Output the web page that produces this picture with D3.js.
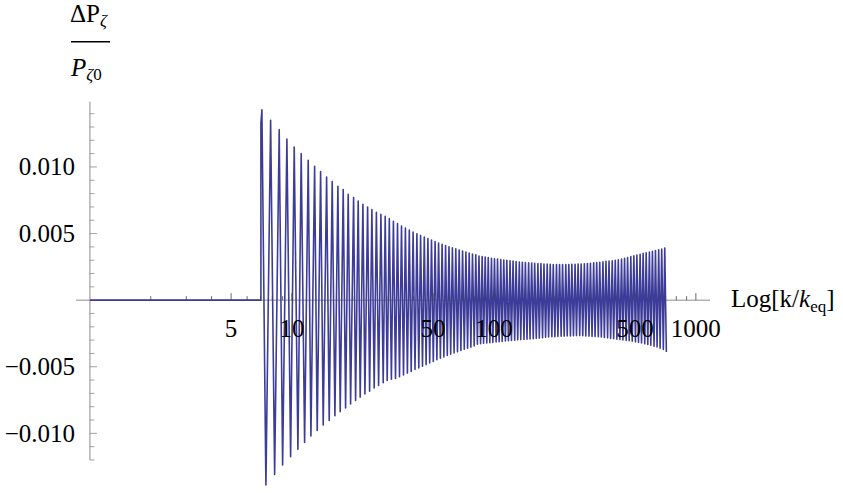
<!DOCTYPE html>
<html>
<head>
<meta charset="utf-8">
<script src="https://cdn.jsdelivr.net/npm/d3@7"></script>
<style>
  body { margin: 0; background: #fff; }
  text { font-family: "Liberation Serif", "Times New Roman", serif; fill: #000; }
</style>
</head>
<body>
<script>
// x values are Log10[k/keq], y values are ΔPζ/Pζ0 (extremes of the oscillation)
var logK = [
  0, 0.8465, 0.8465, 0.8515, 0.8713, 0.8946, 0.9144, 0.9371, 0.9540, 0.9752, 0.9936,
  1.0114, 1.0297, 1.0460, 1.0629, 1.0807, 1.0941, 1.1124, 1.1252, 1.1421, 1.1550,
  1.1718, 1.1847, 1.1995, 1.2129, 1.2277, 1.2391, 1.2540, 1.2658, 1.2787, 1.2906,
  1.3054, 1.3153, 1.3282, 1.3381, 1.3515, 1.3614, 1.3748, 1.3847, 1.3960, 1.4074,
  1.4183, 1.4292, 1.4406, 1.4520, 1.4619, 1.4718,
  1.4822, 1.4926, 1.5025, 1.5129, 1.5228, 1.5327, 1.5426, 1.5525, 1.5619, 1.5718,
  1.5812, 1.5906, 1.6000, 1.6094, 1.6188, 1.6282, 1.6371, 1.6465, 1.6554, 1.6644,
  1.6733, 1.6822, 1.6911, 1.7000, 1.7089, 1.7178, 1.7262, 1.7351, 1.7436, 1.7525,
  1.7609, 1.7693, 1.7777, 1.7861, 1.7946, 1.8030, 1.8114, 1.8198, 1.8282, 1.8366,
  1.8450, 1.8535, 1.8614, 1.8698, 1.8777, 1.8861, 1.8941, 1.9025, 1.9104, 1.9183,
  1.9262, 1.9342,
  1.942, 1.949, 1.957, 1.965, 1.972, 1.980, 1.988, 1.995, 2.003, 2.011,
  2.018, 2.026, 2.034, 2.041, 2.049, 2.057, 2.064, 2.072, 2.080, 2.087,
  2.095, 2.103, 2.110, 2.118, 2.126, 2.133, 2.141, 2.149, 2.156, 2.164,
  2.172, 2.179, 2.187, 2.195, 2.202, 2.210, 2.218, 2.225, 2.233, 2.241,
  2.248, 2.256, 2.264, 2.271, 2.279, 2.287, 2.294, 2.302, 2.310, 2.317,
  2.325, 2.333, 2.340, 2.348, 2.356, 2.363, 2.371, 2.379, 2.386, 2.394,
  2.402, 2.409, 2.417, 2.425, 2.432, 2.440, 2.448, 2.455, 2.463, 2.471,
  2.478, 2.486, 2.494, 2.501, 2.509, 2.517, 2.524, 2.532, 2.540, 2.547,
  2.555, 2.563, 2.570, 2.578, 2.586, 2.593, 2.601, 2.609, 2.616, 2.624,
  2.632, 2.639, 2.647, 2.655, 2.662, 2.670, 2.678, 2.685, 2.693, 2.701,
  2.708, 2.716, 2.724, 2.731, 2.739, 2.747, 2.754, 2.762, 2.770, 2.777,
  2.785, 2.793, 2.800, 2.808, 2.816, 2.823, 2.831, 2.839, 2.846, 2.854
];
var dP = [
  0, 0, 0.0133, 0.0143, -0.01388, 0.0135, -0.01308, 0.0128, -0.01238, 0.0121, -0.01175,
  0.0115, -0.0112, 0.0110, -0.01068, 0.0105, -0.0102, 0.01005, -0.00978, 0.00965, -0.00938,
  0.00925, -0.00903, 0.0089, -0.00868, 0.00855, -0.00838, 0.0083, -0.0081, 0.00795, -0.0078,
  0.0077, -0.00753, 0.00745, -0.00728, 0.0072, -0.00705, 0.0070, -0.00683, 0.0068, -0.0066,
  0.0066, -0.0064, 0.00645, -0.0062, 0.0063, -0.00603,
  0.00612, -0.00594, 0.00593, -0.00588, 0.00575, -0.00575, 0.00557, -0.00562, 0.00541, -0.00548,
  0.00527, -0.00535, 0.00512, -0.00521, 0.00499, -0.00509, 0.00486, -0.00496, 0.00474, -0.00484,
  0.00462, -0.00471, 0.00452, -0.00460, 0.00440, -0.00447, 0.00429, -0.00436, 0.00420, -0.00426,
  0.00410, -0.00416, 0.00401, -0.00406, 0.00393, -0.00396, 0.00385, -0.00388, 0.00377, -0.00378,
  0.00369, -0.00369, 0.00361, -0.00361, 0.00353, -0.00353, 0.00347, -0.00344, 0.00340, -0.00331,
  0.00332, -0.00327,
  0.00328, -0.00324, 0.00323, -0.00322, 0.00319, -0.00319, 0.00315, -0.00317, 0.00311, -0.00314,
  0.00308, -0.00312, 0.00304, -0.00310, 0.00302, -0.00307, 0.00299, -0.00305, 0.00295, -0.00303,
  0.00293, -0.00300, 0.00289, -0.00298, 0.00286, -0.00296, 0.00284, -0.00295, 0.00282, -0.00293,
  0.00280, -0.00291, 0.00279, -0.00289, 0.00276, -0.00287, 0.00275, -0.00285, 0.00274, -0.00282,
  0.00272, -0.00278, 0.00271, -0.00276, 0.00269, -0.00275, 0.00268, -0.00274, 0.00268, -0.00273,
  0.00268, -0.00271, 0.00268, -0.00270, 0.00268, -0.00269, 0.00268, -0.00268, 0.00269, -0.00267,
  0.00270, -0.00266, 0.00271, -0.00266, 0.00272, -0.00267, 0.00273, -0.00269, 0.00275, -0.00270,
  0.00277, -0.00272, 0.00280, -0.00273, 0.00282, -0.00275, 0.00285, -0.00277, 0.00288, -0.00280,
  0.00291, -0.00283, 0.00293, -0.00287, 0.00296, -0.00290, 0.00300, -0.00293, 0.00303, -0.00296,
  0.00308, -0.00299, 0.00314, -0.00302, 0.00320, -0.00305, 0.00327, -0.00309, 0.00333, -0.00313,
  0.00339, -0.00317, 0.00345, -0.00322, 0.00351, -0.00328, 0.00356, -0.00333, 0.00362, -0.00339,
  0.00367, -0.00345, 0.00372, -0.00351, 0.00378, -0.00360, 0.00384, -0.00370, 0.00392, -0.00390
];

var xMajor = [5, 10, 50, 100, 500, 1000];
var xMinor = [2, 3, 4, 6, 7, 8, 9, 20, 30, 40, 60, 70, 80, 90, 200, 300, 400, 600, 700, 800, 900];
var yMajor = [-0.010, -0.005, 0.005, 0.010];
var yLabels = ["\u22120.010", "\u22120.005", "0.005", "0.010"];
var yMinor = [-0.012, -0.011, -0.009, -0.008, -0.007, -0.006, -0.004, -0.003, -0.002, -0.001,
              0.001, 0.002, 0.003, 0.004, 0.006, 0.007, 0.008, 0.009, 0.011, 0.012, 0.013, 0.014];

var width = 843, height = 493;
var svg = d3.select("body").append("svg").attr("width", width).attr("height", height);

var x = d3.scaleLinear().domain([-0.069, 3.07]).range([76, 710]);
var y = d3.scaleLinear().domain([-0.012, 0.0149]).range([460, 101.7]);

var axisColor = "#8c8c8c";

// x axis line
svg.append("line")
  .attr("x1", x(-0.069)).attr("x2", x(3.07))
  .attr("y1", y(0)).attr("y2", y(0))
  .attr("stroke", axisColor).attr("stroke-width", 1);

// y axis line
svg.append("line")
  .attr("x1", x(0)).attr("x2", x(0))
  .attr("y1", y(-0.012)).attr("y2", y(0.0149))
  .attr("stroke", axisColor).attr("stroke-width", 1);

// curve
var pts = logK.map(function(d, i) { return [d, dP[i]]; });
var line = d3.line()
  .x(function(d) { return x(d[0]); })
  .y(function(d) { return y(d[1]); });

svg.append("path")
  .datum(pts)
  .attr("d", line)
  .attr("fill", "none")
  .attr("stroke", "#3d3d99")
  .attr("stroke-width", 1.6)
  .attr("stroke-linejoin", "round");

// x ticks
svg.selectAll(".xmin").data(xMinor).enter().append("line")
  .attr("x1", function(d) { return x(Math.log10(d)); })
  .attr("x2", function(d) { return x(Math.log10(d)); })
  .attr("y1", y(0)).attr("y2", y(0) - 4)
  .attr("stroke", "#444").attr("stroke-width", 0.8);
svg.selectAll(".xmaj").data(xMajor).enter().append("line")
  .attr("x1", function(d) { return x(Math.log10(d)); })
  .attr("x2", function(d) { return x(Math.log10(d)); })
  .attr("y1", y(0)).attr("y2", y(0) - 7)
  .attr("stroke", "#444").attr("stroke-width", 0.8);
svg.selectAll(".xlab").data(xMajor).enter().append("text")
  .attr("x", function(d) { return x(Math.log10(d)); })
  .attr("y", 337)
  .attr("text-anchor", "middle")
  .attr("font-size", 25)
  .text(function(d) { return d; });

// y ticks
svg.selectAll(".ymin").data(yMinor).enter().append("line")
  .attr("x1", x(0)).attr("x2", x(0) + 4.5)
  .attr("y1", function(d) { return y(d); })
  .attr("y2", function(d) { return y(d); })
  .attr("stroke", axisColor).attr("stroke-width", 0.8);
svg.selectAll(".ymaj").data(yMajor).enter().append("line")
  .attr("x1", x(0)).attr("x2", x(0) + 7)
  .attr("y1", function(d) { return y(d); })
  .attr("y2", function(d) { return y(d); })
  .attr("stroke", axisColor).attr("stroke-width", 0.8);
svg.selectAll(".ylab").data(yMajor).enter().append("text")
  .attr("x", 75)
  .attr("y", function(d) { return y(d) + 8.4; })
  .attr("text-anchor", "end")
  .attr("font-size", 25)
  .text(function(d, i) { return yLabels[i]; });

// axis titles
var xt = svg.append("text").attr("x", 731).attr("y", 307).attr("font-size", 25);
xt.append("tspan").text("Log[k/");
xt.append("tspan").attr("font-style", "italic").text("k");
xt.append("tspan").attr("font-size", 17).attr("dy", 5).text("eq");
xt.append("tspan").attr("dy", -5).text("]");

var yt = svg.append("text").attr("x", 70).attr("y", 22).attr("font-size", 25);
yt.append("tspan").text("\u0394P");
yt.append("tspan").attr("font-style", "italic").attr("font-size", 17).attr("dy", 4).text("\u03b6");

svg.append("line")
  .attr("x1", 71).attr("x2", 110).attr("y1", 41.8).attr("y2", 41.8)
  .attr("stroke", "#000").attr("stroke-width", 1.5);

var yb = svg.append("text").attr("x", 71).attr("y", 76).attr("font-size", 25);
yb.append("tspan").attr("font-style", "italic").text("P");
yb.append("tspan").attr("font-style", "italic").attr("font-size", 17).attr("dy", 4).text("\u03b6");
yb.append("tspan").attr("font-size", 17).text("0");
</script>
</body>
</html>
